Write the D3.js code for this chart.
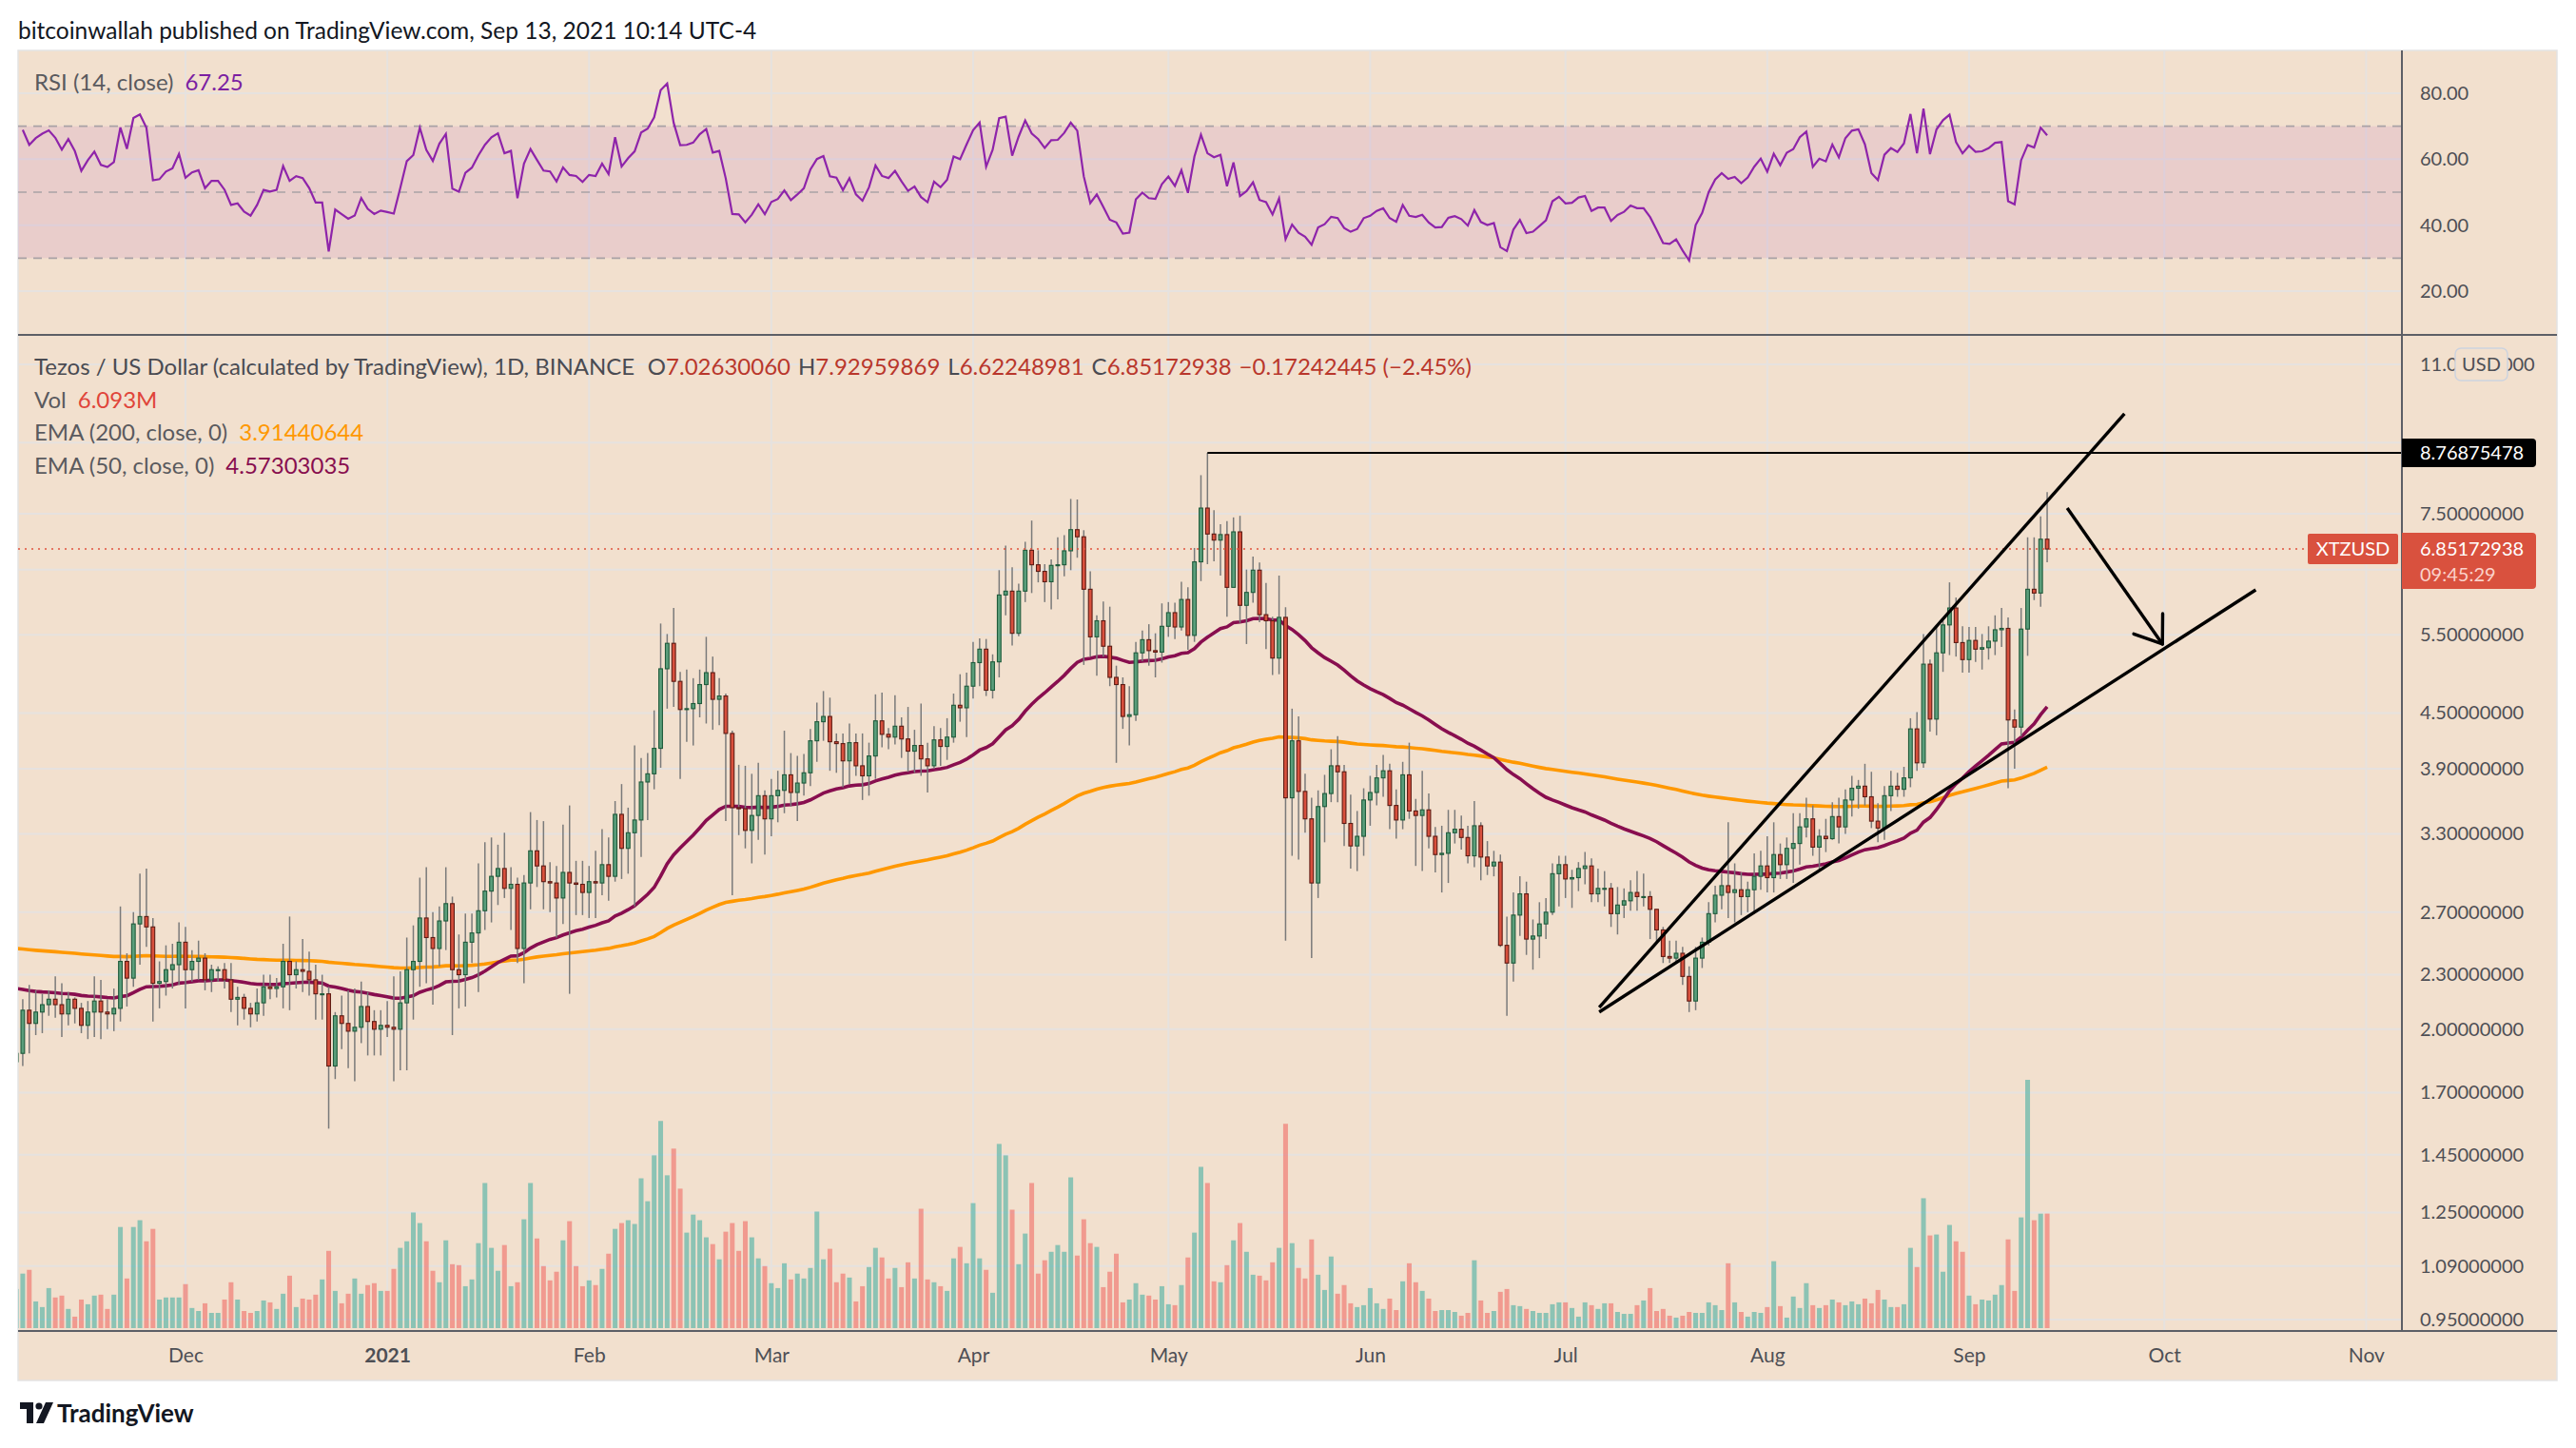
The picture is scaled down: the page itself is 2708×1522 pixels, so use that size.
<!DOCTYPE html>
<html>
<head>
<meta charset="utf-8">
<script src="https://cdn.jsdelivr.net/npm/d3@7"></script>
<style>
  body { margin: 0; background: #fff; }
  svg text { font-family: Lato, "Open Sans", "DejaVu Sans", sans-serif; }
</style>
</head>
<body>
<svg id="chart" width="2708" height="1522"></svg>
<script>
// ---- data (XTZ/USD daily, Binance) ----
const startDate = "2020-11-05";
const firstOpen = 1.84;

const closes = [
  // Nov 2020 (from 5th)
  1.88, 2.10, 2.03, 2.09, 2.13, 2.16, 2.13, 2.08, 2.16, 2.11, 2.02, 2.09, 2.15, 2.09, 2.08, 2.11, 2.38, 2.28, 2.62, 2.67, 2.60, 2.25, 2.26, 2.33, 2.36, 2.50,
  // Dec
  2.33, 2.38, 2.40, 2.27, 2.33, 2.33, 2.27, 2.16, 2.17, 2.11, 2.08, 2.14, 2.23, 2.22, 2.23, 2.38, 2.30, 2.33, 2.32, 2.27, 2.19, 2.19, 1.82, 2.07, 2.03, 1.99, 2.01, 2.12, 2.04, 2.00, 2.02,
  // Jan 2021
  2.01, 2.00, 2.14, 2.33, 2.38, 2.66, 2.53, 2.46, 2.64, 2.76, 2.33, 2.30, 2.50, 2.56, 2.71, 2.85, 2.96, 3.02, 2.87, 2.90, 2.46, 2.91, 3.16, 3.04, 2.92, 2.91, 2.80, 2.99, 2.91, 2.90, 2.84,
  // Feb
  2.92, 2.91, 3.05, 2.96, 3.47, 3.18, 3.31, 3.42, 3.77, 3.85, 4.11, 5.04, 5.38, 4.88, 4.54, 4.55, 4.61, 4.84, 4.99, 4.66, 4.70, 4.27, 3.53, 3.52, 3.33, 3.46, 3.64, 3.43,
  // Mar
  3.64, 3.69, 3.84, 3.67, 3.76, 3.86, 4.19, 4.40, 4.46, 4.18, 4.16, 3.98, 4.17, 3.93, 3.83, 4.03, 4.41, 4.26, 4.23, 4.35, 4.21, 4.08, 4.14, 4.00, 3.93, 4.20, 4.13, 4.23, 4.59, 4.56, 4.82,
  // Apr
  5.12, 5.30, 4.77, 5.13, 6.09, 6.15, 5.52, 6.15, 6.83, 6.58, 6.47, 6.30, 6.57, 6.58, 6.82, 7.20, 7.07, 6.18, 5.47, 5.70, 5.34, 4.93, 4.84, 4.46, 4.48, 5.25, 5.43, 5.28, 5.26, 5.62,
  // May
  5.82, 5.61, 6.02, 5.49, 6.63, 7.61, 7.12, 7.01, 7.11, 6.21, 7.16, 5.93, 6.13, 6.49, 5.79, 5.70, 5.18, 5.75, 3.62, 4.19, 3.68, 3.43, 2.91, 3.54, 3.66, 3.93, 3.87, 3.39, 3.20, 3.28, 3.60,
  // Jun
  3.67, 3.81, 3.88, 3.55, 3.42, 3.84, 3.50, 3.46, 3.51, 3.28, 3.13, 3.14, 3.31, 3.34, 3.27, 3.12, 3.37, 3.11, 3.04, 3.07, 2.48, 2.37, 2.68, 2.83, 2.52, 2.54, 2.62, 2.70, 2.98, 3.05,
  // Jul
  2.94, 2.95, 3.02, 3.04, 2.83, 2.87, 2.87, 2.69, 2.75, 2.78, 2.84, 2.81, 2.81, 2.72, 2.58, 2.41, 2.40, 2.43, 2.29, 2.15, 2.40, 2.50, 2.69, 2.82, 2.89, 2.84, 2.86, 2.81, 2.86, 2.96, 3.04,
  // Aug
  2.95, 3.13, 3.05, 3.18, 3.22, 3.36, 3.43, 3.19, 3.28, 3.26, 3.45, 3.36, 3.60, 3.71, 3.73, 3.63, 3.41, 3.35, 3.64, 3.73, 3.70, 3.81, 4.32, 3.96, 5.10, 4.43, 5.25, 5.64, 5.89, 5.39, 5.16,
  // Sep (to 13th)
  5.42, 5.30, 5.32, 5.41, 5.57, 5.59, 4.42, 4.34, 5.58, 6.18, 6.12, 7.02630060, 6.85172938
];

const highs = [
  1.92, 2.16, 2.24, 2.21, 2.19, 2.21, 2.29, 2.25, 2.20, 2.17, 2.14, 2.15, 2.29, 2.27, 2.16, 2.22, 2.74, 2.43, 2.70, 2.98, 3.02, 2.66, 2.38, 2.48, 2.49, 2.63,
  2.60, 2.45, 2.51, 2.43, 2.36, 2.35, 2.37, 2.37, 2.23, 2.19, 2.14, 2.22, 2.30, 2.30, 2.28, 2.49, 2.67, 2.38, 2.52, 2.44, 2.36, 2.30, 2.23, 2.09, 2.18, 2.21, 2.22, 2.26, 2.20, 2.10, 2.10,
  2.15, 2.29, 2.32, 2.53, 2.61, 2.95, 3.03, 2.70, 2.74, 3.03, 2.81, 2.55, 2.69, 2.69, 3.06, 3.23, 3.27, 3.21, 3.31, 3.03, 2.95, 2.97, 3.49, 3.42, 3.41, 3.07, 3.04, 3.38, 3.55, 3.08, 3.08,
  3.04, 3.16, 3.34, 3.27, 3.59, 3.75, 3.53, 4.14, 4.01, 4.06, 4.53, 5.66, 5.51, 5.89, 5.00, 5.03, 4.92, 5.03, 5.47, 5.20, 4.92, 4.73, 4.30, 3.94, 3.93, 3.85, 3.96, 3.69,
  3.80, 3.88, 4.30, 4.06, 4.03, 4.05, 4.32, 4.62, 4.76, 4.68, 4.27, 4.27, 4.38, 4.27, 4.27, 4.17, 4.72, 4.74, 4.33, 4.71, 4.45, 4.57, 4.31, 4.61, 4.17, 4.35, 4.33, 4.44, 4.73, 4.97, 4.99,
  5.40, 5.45, 5.44, 5.23, 6.49, 6.91, 6.54, 6.27, 6.98, 7.37, 6.83, 6.59, 6.67, 7.06, 7.10, 7.79, 7.78, 7.19, 6.47, 5.78, 5.99, 5.91, 5.08, 4.93, 4.82, 5.40, 5.56, 5.65, 5.52, 5.96,
  5.98, 5.97, 6.30, 6.21, 6.87, 8.28, 8.76875478, 7.57, 7.30, 7.36, 7.43, 7.46, 6.50, 6.72, 6.62, 6.28, 5.76, 6.40, 5.90, 4.55, 4.46, 3.85, 3.62, 3.69, 3.84, 4.10, 4.24, 3.94, 3.65, 3.50, 3.71,
  3.83, 3.94, 4.04, 3.95, 3.70, 3.97, 4.17, 3.61, 3.88, 3.66, 3.36, 3.37, 3.51, 3.51, 3.46, 3.37, 3.59, 3.40, 3.24, 3.16, 3.13, 2.67, 2.84, 2.96, 2.92, 2.65, 2.77, 2.80, 3.06, 3.12,
  3.12, 3.01, 3.07, 3.15, 3.10, 3.02, 3.00, 2.91, 2.88, 2.87, 2.93, 3.00, 2.98, 2.85, 2.72, 2.60, 2.51, 2.51, 2.47, 2.35, 2.47, 2.53, 2.77, 2.89, 2.98, 3.40, 3.06, 2.99, 2.92, 3.14, 3.16,
  3.28, 3.40, 3.22, 3.27, 3.48, 3.48, 3.62, 3.55, 3.34, 3.43, 3.58, 3.62, 3.70, 3.83, 3.79, 3.95, 3.87, 3.57, 3.73, 3.88, 3.86, 3.92, 4.44, 4.51, 5.51, 5.16, 5.64, 5.74, 6.29, 6.05, 5.62,
  5.61, 5.61, 5.51, 5.62, 5.78, 5.89, 5.75, 4.54, 5.89, 7.06, 7.06, 7.45, 7.92959869
];

const lows = [
  1.80, 1.82, 1.88, 1.97, 1.98, 2.07, 2.06, 1.96, 2.02, 2.03, 1.98, 1.95, 1.96, 1.95, 2.00, 1.99, 2.04, 2.12, 2.23, 2.36, 2.47, 2.04, 2.11, 2.18, 2.22, 2.24,
  2.11, 2.26, 2.27, 2.21, 2.20, 2.26, 2.22, 2.09, 2.02, 2.05, 2.01, 2.04, 2.07, 2.16, 2.17, 2.11, 2.10, 2.22, 2.20, 2.18, 2.05, 2.05, 1.55, 1.76, 1.90, 1.81, 1.75, 1.93, 1.87, 1.87, 1.87,
  1.96, 1.75, 1.80, 1.80, 2.05, 2.23, 2.25, 2.13, 2.35, 2.45, 1.97, 2.11, 2.12, 2.37, 2.20, 2.58, 2.63, 2.75, 2.80, 2.58, 2.37, 2.25, 2.72, 2.88, 2.72, 2.70, 2.53, 2.62, 2.19, 2.68, 2.68,
  2.66, 2.66, 2.82, 2.78, 2.92, 2.94, 2.98, 2.74, 3.11, 3.42, 3.70, 3.91, 4.55, 4.57, 3.80, 4.18, 4.14, 4.45, 4.38, 4.31, 4.36, 3.41, 2.82, 3.29, 3.18, 3.06, 3.25, 3.13,
  3.28, 3.40, 3.48, 3.54, 3.41, 3.64, 3.73, 3.97, 4.19, 3.88, 3.86, 3.72, 3.75, 3.83, 3.60, 3.64, 3.80, 4.12, 4.10, 4.15, 4.01, 3.87, 3.86, 3.83, 3.67, 3.90, 3.93, 3.99, 4.17, 4.40, 4.23,
  4.67, 4.82, 4.70, 4.67, 4.93, 5.78, 5.35, 5.48, 5.98, 6.12, 6.29, 5.98, 5.87, 6.02, 6.39, 6.49, 6.70, 5.09, 5.20, 4.95, 5.20, 4.82, 3.96, 4.32, 4.14, 4.41, 5.14, 5.08, 4.93, 5.12,
  5.47, 5.44, 5.56, 5.29, 5.40, 6.31, 6.59, 6.64, 6.40, 5.76, 6.21, 5.67, 5.37, 5.97, 5.68, 5.30, 4.96, 4.97, 2.51, 3.12, 3.09, 3.31, 2.40, 2.80, 3.23, 3.58, 3.58, 3.20, 3.02, 3.00, 3.12,
  3.37, 3.55, 3.63, 3.34, 3.26, 3.34, 3.43, 3.04, 3.00, 3.18, 2.99, 2.84, 2.91, 3.22, 3.17, 3.06, 3.03, 2.93, 2.97, 2.96, 2.47, 2.07, 2.26, 2.54, 2.42, 2.33, 2.40, 2.52, 2.68, 2.74,
  2.80, 2.73, 2.85, 2.90, 2.77, 2.77, 2.74, 2.60, 2.55, 2.66, 2.71, 2.71, 2.74, 2.52, 2.49, 2.37, 2.37, 2.37, 2.24, 2.09, 2.10, 2.34, 2.48, 2.63, 2.72, 2.66, 2.63, 2.68, 2.70, 2.69, 2.86,
  2.84, 2.84, 2.94, 2.94, 2.91, 3.05, 3.27, 3.12, 3.01, 3.15, 3.25, 3.22, 3.30, 3.45, 3.52, 3.55, 3.35, 3.23, 3.25, 3.50, 3.63, 3.63, 3.72, 3.88, 3.91, 4.29, 4.25, 5.00, 5.22, 5.20, 4.99,
  4.99, 5.13, 5.03, 5.16, 5.22, 5.33, 3.71, 3.90, 4.24, 5.21, 6.01, 5.91, 6.62248981
];

// volume in millions
const volumes = [
  2.08, 2.90, 3.10, 1.42, 1.12, 2.13, 1.63, 1.73, 1.02, 0.61, 1.52, 1.27, 1.73, 1.78, 1.02, 1.78, 5.38, 2.64, 5.38, 5.74, 4.62, 5.28, 1.52, 1.63, 1.63, 1.63,
  2.34, 1.07, 0.91, 1.32, 0.81, 0.81, 1.52, 2.44, 1.52, 0.91, 0.81, 0.91, 1.47, 1.37, 1.02, 1.83, 2.79, 1.12, 1.57, 1.52, 1.78, 2.59, 4.11, 1.98, 1.32, 1.83, 2.64, 1.83, 2.29, 2.39, 1.98,
  1.98, 3.15, 4.27, 4.62, 6.15, 5.59, 4.62, 3.05, 2.44, 4.67, 3.40, 3.35, 2.23, 2.59, 4.52, 7.72, 4.27, 3.05, 4.42, 2.23, 2.44, 5.79, 7.72, 4.77, 3.30, 2.54, 3.00, 4.67, 5.69, 3.30, 2.23,
  2.54, 2.29, 3.15, 3.96, 5.28, 5.59, 5.74, 5.54, 7.97, 6.75, 9.19, 11.02, 8.13, 9.55, 7.42, 5.08, 6.04, 5.74, 4.83, 4.47, 3.66, 5.13, 5.59, 4.11, 5.69, 4.83, 3.71, 3.30,
  2.39, 2.13, 3.45, 2.59, 2.90, 2.64, 3.20, 6.20, 3.66, 4.22, 2.44, 2.90, 2.69, 1.42, 2.23, 3.25, 4.27, 3.76, 2.64, 3.20, 2.18, 3.50, 2.64, 6.35, 2.59, 2.44, 2.23, 1.98, 3.71, 4.32, 3.45,
  6.65, 3.71, 3.10, 1.88, 9.80, 9.19, 6.30, 3.40, 5.03, 7.72, 2.90, 3.61, 4.06, 4.42, 4.06, 8.02, 3.86, 5.79, 4.52, 4.32, 2.18, 3.00, 3.96, 1.37, 1.52, 2.39, 1.78, 1.73, 1.52, 2.23,
  1.27, 1.22, 2.29, 3.76, 5.08, 8.58, 7.72, 2.49, 2.44, 3.35, 4.67, 5.59, 4.06, 2.84, 2.79, 2.54, 3.50, 4.27, 10.87, 4.52, 3.20, 2.64, 4.72, 2.84, 2.03, 3.81, 1.83, 2.29, 1.32, 1.12, 1.22,
  2.13, 1.32, 1.02, 1.57, 0.96, 2.49, 3.45, 2.44, 1.98, 1.57, 0.91, 0.96, 0.96, 0.86, 0.66, 0.81, 3.61, 1.47, 0.81, 0.91, 1.93, 2.08, 1.22, 1.17, 1.02, 0.91, 0.81, 0.81, 1.27, 1.37,
  1.37, 1.07, 0.61, 1.37, 1.22, 1.02, 1.32, 1.32, 0.86, 0.76, 0.76, 1.22, 1.47, 2.13, 0.91, 1.02, 0.66, 0.56, 0.66, 0.86, 0.81, 0.81, 1.37, 1.22, 0.96, 3.45, 1.37, 0.86, 0.61, 0.86, 0.81,
  1.12, 3.56, 1.17, 0.56, 1.68, 1.07, 2.39, 1.22, 1.07, 1.22, 1.52, 1.37, 1.22, 1.42, 1.27, 1.57, 1.32, 2.03, 1.52, 1.12, 1.12, 1.27, 4.27, 3.25, 6.91, 4.93, 4.98, 3.00, 5.49, 4.62, 4.06,
  1.73, 1.27, 1.52, 1.47, 1.78, 2.29, 4.72, 1.98, 5.89, 13.21, 5.74, 6.09, 6.093
];

// EMA values at the first visible bar (longer history is off-chart)
const ema200Seed = 2.46;
const ema50Seed = 2.22;

// axis ticks
const priceTicks = [11, 9, 7.5, 6.5, 5.5, 4.5, 3.9, 3.3, 2.7, 2.3, 2.0, 1.7, 1.45, 1.25, 1.09, 0.95];
const hiddenPriceLabels = [9, 6.5];          // covered by the price boxes
const rsiTicks = [80, 60, 40, 20];
const rsiLevels = [70, 50, 30];

// drawings: [date, price]
const resistance = { from: ["2021-05-07", 8.76875478] };
const wedgeUpper = [["2021-07-06T04:30:00Z", 2.115], ["2021-09-24T21:00:00Z", 9.69]];
const wedgeLower = [["2021-07-06T04:30:00Z", 2.09], ["2021-10-15T01:00:00Z", 6.17]];
const arrowPts = [["2021-09-16T02:00:00Z", 7.61], ["2021-09-30T17:00:00Z", 5.37]];

// legend texts
const titleText = "bitcoinwallah published on TradingView.com, Sep 13, 2021 10:14 UTC-4";
const symbolText = "Tezos / US Dollar (calculated by TradingView), 1D, BINANCE";
const ohlcText = [["O", "7.02630060"], ["H", "7.92959869"], ["L", "6.62248981"], ["C", "6.85172938"], ["", "\u22120.17242445 (\u22122.45%)"]];
const lastRsi = "67.25";
const lastVol = "6.093M";
const ema200Last = "3.91440644";
const ema50Last = "4.57303035";
const countdown = "09:45:29";

// ---- layout ----
const P = { left: 19, right: 2525, edge: 2688, top: 53, rsiBottom: 352, mainBottom: 1399, bottom: 1451 };
const BG = "#f2e0ce", GRID = "#e6e2df", AXIS = "#5d5f66", LABEL = "#4e4f55";
const UP = "#5a9e7b", UP_EDGE = "#1f5b3b", DN = "#d8503d", DN_EDGE = "#5e1b13";
const LEGEND_SIZE = 24;

const svg = d3.select("#chart");
const parseDay = d3.utcParse("%Y-%m-%d");
const t0 = parseDay(startDate);

const bars = closes.map((c, i) => {
  const o = i === 0 ? firstOpen : closes[i - 1];
  return { date: d3.utcDay.offset(t0, i), o, c, h: Math.max(highs[i], o, c), l: Math.min(lows[i], o, c), v: volumes[i] };
});

function emaOf(values, n, seed) {
  const k = 2 / (n + 1);
  let e = seed;
  return values.map((v, i) => (i === 0 ? e : (e = v * k + e * (1 - k))));
}
function rsiOf(values, n) {
  const ch = values.slice(1).map((v, i) => v - values[i]);
  let g = d3.mean(ch.slice(0, n), d => Math.max(d, 0));
  let l = d3.mean(ch.slice(0, n), d => Math.max(-d, 0));
  const out = [null];
  ch.forEach(d => {
    g = (g * (n - 1) + Math.max(d, 0)) / n;
    l = (l * (n - 1) + Math.max(-d, 0)) / n;
    out.push(100 - 100 / (1 + g / l));
  });
  return out;
}
const ema200 = emaOf(closes, 200, ema200Seed);
const ema50 = emaOf(closes, 50, ema50Seed);
const rsi = rsiOf(closes, 14);

// scales
const x = d3.scaleUtc()
  .domain([new Date("2020-11-05T06:45:00Z"), new Date("2021-11-06T12:00:00Z")])
  .range([P.left, P.right]);
const y = d3.scaleLog().domain([0.95, 11]).range([1387, 383]);
const yRsi = d3.scaleLinear().domain([20, 80]).range([306, 98]);
const yVol = d3.scaleLinear().domain([0, d3.max(volumes)]).range([P.mainBottom - 3, 1135]);

// background
svg.append("rect").attr("width", 2708).attr("height", 1522).attr("fill", "#fff");
svg.append("rect").attr("x", P.left).attr("y", P.top).attr("width", P.edge - P.left).attr("height", P.bottom - P.top)
  .attr("fill", BG).attr("stroke", "#e3e3e3").attr("stroke-width", 1.5);

svg.append("text").attr("x", 19).attr("y", 41).attr("font-size", 24.5).attr("fill", "#131722").text(titleText);

const defs = svg.append("defs");
defs.append("clipPath").attr("id", "clipRsi").append("rect")
  .attr("x", P.left).attr("y", P.top).attr("width", P.right - P.left).attr("height", P.rsiBottom - P.top);
defs.append("clipPath").attr("id", "clipMain").append("rect")
  .attr("x", P.left).attr("y", P.rsiBottom).attr("width", P.right - P.left).attr("height", P.mainBottom - P.rsiBottom);

// grid
const months = d3.utcMonth.range(new Date("2020-12-01"), new Date("2021-11-02"));
const grid = svg.append("g").attr("stroke", GRID).attr("stroke-width", 2);
grid.selectAll(".vg").data(months).join("line")
  .attr("x1", d => x(d)).attr("x2", d => x(d)).attr("y1", P.top).attr("y2", P.mainBottom);
grid.selectAll(".rg").data(rsiTicks).join("line")
  .attr("x1", P.left).attr("x2", P.right).attr("y1", d => yRsi(d)).attr("y2", d => yRsi(d));
grid.selectAll(".pg").data(priceTicks).join("line")
  .attr("x1", P.left).attr("x2", P.right).attr("y1", d => y(d)).attr("y2", d => y(d));

// ---- RSI pane ----
const rsiG = svg.append("g").attr("clip-path", "url(#clipRsi)");
rsiG.append("rect").attr("x", P.left).attr("width", P.right - P.left)
  .attr("y", yRsi(70)).attr("height", yRsi(30) - yRsi(70)).attr("fill", "#9c27b0").attr("fill-opacity", 0.1);
rsiG.selectAll(".lvl").data(rsiLevels).join("line")
  .attr("x1", P.left).attr("x2", P.right).attr("y1", d => yRsi(d)).attr("y2", d => yRsi(d))
  .attr("stroke", "#a9a2a6").attr("stroke-width", 1.6).attr("stroke-dasharray", "9,7");
rsiG.append("path")
  .datum(bars.map((b, i) => ({ date: b.date, v: rsi[i] })).filter(d => d.v != null))
  .attr("fill", "none").attr("stroke", "#8e24aa").attr("stroke-width", 2.2)
  .attr("d", d3.line().x(d => x(d.date)).y(d => yRsi(d.v)));

// ---- main pane ----
const mainG = svg.append("g").attr("clip-path", "url(#clipMain)");

mainG.append("g").selectAll("rect").data(bars).join("rect")
  .attr("x", d => x(d.date) - 2.5).attr("width", 5)
  .attr("y", d => yVol(d.v)).attr("height", d => yVol(0) - yVol(d.v))
  .attr("fill", d => d.c >= d.o ? "rgba(38,166,154,0.5)" : "rgba(239,83,80,0.5)");

const lineGen = d3.line().x(d => x(d.date)).y(d => y(d.v));
mainG.append("path").datum(bars.map((b, i) => ({ date: b.date, v: ema200[i] })))
  .attr("fill", "none").attr("stroke", "#ff9800").attr("stroke-width", 3.6).attr("d", lineGen);
mainG.append("path").datum(bars.map((b, i) => ({ date: b.date, v: ema50[i] })))
  .attr("fill", "none").attr("stroke", "#880e4f").attr("stroke-width", 3.6).attr("d", lineGen);

const candle = mainG.append("g").selectAll("g").data(bars).join("g");
candle.append("line")
  .attr("x1", d => x(d.date)).attr("x2", d => x(d.date))
  .attr("y1", d => y(d.h)).attr("y2", d => y(d.l))
  .attr("stroke", "#7a7a7a").attr("stroke-width", 1.5);
candle.append("rect")
  .attr("x", d => x(d.date) - 1.9).attr("width", 3.8)
  .attr("y", d => y(Math.max(d.o, d.c)))
  .attr("height", d => Math.max(1, y(Math.min(d.o, d.c)) - y(Math.max(d.o, d.c))))
  .attr("fill", d => d.c >= d.o ? UP : DN)
  .attr("stroke", d => d.c >= d.o ? UP_EDGE : DN_EDGE).attr("stroke-width", 1.1);

// last price line
const last = bars[bars.length - 1];
svg.append("line").attr("x1", P.left).attr("x2", 2426).attr("y1", y(last.c)).attr("y2", y(last.c))
  .attr("stroke", "#e0533f").attr("stroke-width", 1.6).attr("stroke-dasharray", "2,5");

// drawings
const drawG = svg.append("g").attr("clip-path", "url(#clipMain)").attr("stroke", "#000").attr("fill", "none");
drawG.append("line")
  .attr("x1", x(parseDay(resistance.from[0]))).attr("x2", P.right)
  .attr("y1", y(resistance.from[1])).attr("y2", y(resistance.from[1])).attr("stroke-width", 2);
const pt = p => [x(new Date(p[0])), y(p[1])];
[wedgeUpper, wedgeLower].forEach(seg => {
  const [a, b] = seg.map(pt);
  drawG.append("line").attr("x1", a[0]).attr("y1", a[1]).attr("x2", b[0]).attr("y2", b[1]).attr("stroke-width", 3.4);
});
{
  const [a, b] = arrowPts.map(pt);
  drawG.append("line").attr("x1", a[0]).attr("y1", a[1]).attr("x2", b[0]).attr("y2", b[1]).attr("stroke-width", 3.4);
  const ang = Math.atan2(a[1] - b[1], a[0] - b[0]);
  [-0.62, 0.62].forEach(da => {
    drawG.append("line").attr("x1", b[0]).attr("y1", b[1])
      .attr("x2", b[0] + 32 * Math.cos(ang + da)).attr("y2", b[1] + 32 * Math.sin(ang + da))
      .attr("stroke-width", 3.4).attr("stroke-linecap", "round");
  });
}

// pane borders
const border = svg.append("g").attr("stroke", AXIS).attr("stroke-width", 2);
border.append("line").attr("x1", P.left).attr("x2", P.edge).attr("y1", P.rsiBottom).attr("y2", P.rsiBottom);
border.append("line").attr("x1", P.left).attr("x2", P.edge).attr("y1", P.mainBottom).attr("y2", P.mainBottom);
border.append("line").attr("x1", P.right).attr("x2", P.right).attr("y1", P.top).attr("y2", P.mainBottom);

// axes
function styleAxis(g) {
  g.select(".domain").remove();
  g.selectAll(".tick line").remove();
  g.selectAll("text").attr("font-family", "Lato, 'Open Sans', sans-serif").attr("font-size", 20).attr("fill", LABEL);
}
const fmt8 = d3.format(".8f");
const labelTicks = priceTicks.filter(t => t !== 11 && !hiddenPriceLabels.includes(t));
svg.append("g").attr("transform", `translate(${P.right},0)`)
  .call(d3.axisRight(y).tickValues(labelTicks).tickFormat(fmt8).tickSize(0).tickPadding(19))
  .call(styleAxis);
svg.append("g").attr("transform", `translate(${P.right},0)`)
  .call(d3.axisRight(yRsi).tickValues(rsiTicks).tickFormat(d3.format(".2f")).tickSize(0).tickPadding(19))
  .call(styleAxis);
const xAxis = svg.append("g").attr("transform", `translate(0,${P.mainBottom + 14})`)
  .call(d3.axisBottom(x).tickValues(months).tickSize(0).tickPadding(0)
    .tickFormat(d => d.getUTCMonth() === 0 ? d3.utcFormat("%Y")(d) : d3.utcFormat("%b")(d)))
  .call(styleAxis);
xAxis.selectAll("text").attr("font-size", 21).attr("dy", "0.9em")
  .attr("font-weight", d => d.getUTCMonth() === 0 ? "bold" : "normal");

// top price label is half hidden by the currency button: draw its two visible ends
{
  const full = fmt8(11);
  const probe = svg.append("text").attr("font-size", 20).text(full);
  const w = probe.node().getComputedTextLength();
  probe.remove();
  svg.append("text").attr("x", 2544).attr("y", y(11)).attr("dy", "0.36em").attr("font-size", 20).attr("fill", LABEL)
    .text(full.slice(0, 4));
  svg.append("text").attr("x", 2544 + w).attr("y", y(11)).attr("dy", "0.36em").attr("text-anchor", "end")
    .attr("font-size", 20).attr("fill", LABEL).text(full.slice(-3));
}
svg.append("rect").attr("x", 2581).attr("y", y(11) - 17).attr("width", 55).attr("height", 34).attr("rx", 6)
  .attr("fill", BG).attr("stroke", "#cdd3df").attr("stroke-width", 1.5);
svg.append("text").attr("x", 2608.5).attr("y", y(11)).attr("dy", "0.36em").attr("text-anchor", "middle")
  .attr("font-size", 20).attr("fill", LABEL).text("USD");

// axis label boxes
const yRes = y(resistance.from[1]);
svg.append("path").attr("d", `M${P.right},${yRes - 15}h137a4,4 0 0 1 4,4v22a4,4 0 0 1 -4,4h-137z`).attr("fill", "#000");
svg.append("text").attr("x", 2544).attr("y", yRes).attr("dy", "0.36em").attr("font-size", 20).attr("fill", "#fff")
  .text(fmt8(resistance.from[1]));

const yLast = y(last.c);
svg.append("path").attr("d", `M${P.right},${yLast - 17}h137a4,4 0 0 1 4,4v51a4,4 0 0 1 -4,4h-137z`).attr("fill", "#d9513e");
svg.append("text").attr("x", 2544).attr("y", yLast).attr("dy", "0.36em").attr("font-size", 20).attr("fill", "#fff")
  .text(fmt8(last.c));
svg.append("text").attr("x", 2544).attr("y", yLast + 27).attr("dy", "0.36em").attr("font-size", 20).attr("fill", "#fbd2ca")
  .text(countdown);
svg.append("rect").attr("x", 2426).attr("y", yLast - 16).attr("width", 95).attr("height", 32).attr("rx", 2).attr("fill", "#d9513e");
svg.append("text").attr("x", 2473.5).attr("y", yLast).attr("dy", "0.36em").attr("text-anchor", "middle")
  .attr("font-size", 20).attr("fill", "#fff").text("XTZUSD");

// legends
function legendRow(yPos, parts) {
  const t = svg.append("text").attr("x", 36).attr("y", yPos).attr("dy", "0.36em").attr("font-size", LEGEND_SIZE);
  parts.forEach(([txt, col, gap]) => t.append("tspan").attr("fill", col).attr("dx", gap || 0).text(txt));
}
legendRow(86, [["RSI (14, close)", "#5a5a5e"], [lastRsi, "#7b1fa2", 12]]);
const ohlcParts = [[symbolText, "#4a4b52"]];
ohlcText.forEach(([k, v], i) => {
  if (k) ohlcParts.push([k, "#4a4b52", i === 0 ? 14 : 8]);
  ohlcParts.push([v, "#b9372c", k ? 0 : 8]);
});
legendRow(385, ohlcParts);
legendRow(420, [["Vol", "#5a5a5e"], [lastVol, "#e0453a", 12]]);
legendRow(454, [["EMA (200, close, 0)", "#5a5a5e"], [ema200Last, "#ff9800", 12]]);
legendRow(489, [["EMA (50, close, 0)", "#5a5a5e"], [ema50Last, "#880e4f", 12]]);

// logo
const logo = svg.append("g").attr("transform", "translate(21,1474)").attr("fill", "#131722");
logo.append("path").attr("d", "M0,0H14V22H7V7H0Z");
logo.append("circle").attr("cx", 20).attr("cy", 4).attr("r", 3.6);
logo.append("path").attr("d", "M27,0H35L25,22H17Z");
svg.append("text").attr("x", 60).attr("y", 1495).attr("font-size", 26).attr("font-weight", "bold")
  .attr("fill", "#131722").text("TradingView");
</script>
</body>
</html>
